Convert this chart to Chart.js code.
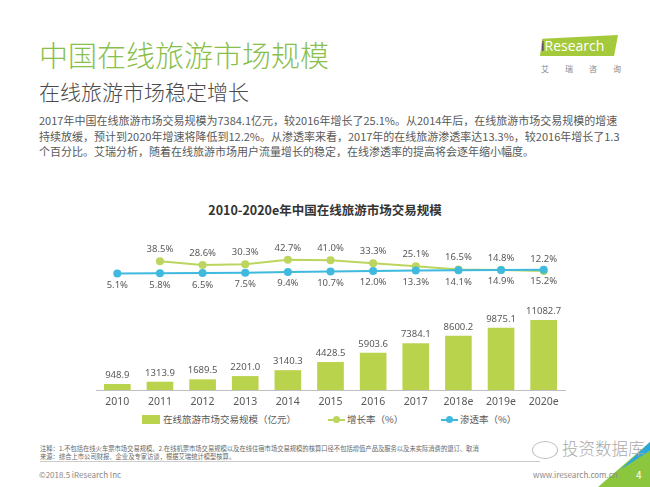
<!DOCTYPE html>
<html lang="zh-CN">
<head>
<meta charset="utf-8">
<title>中国在线旅游市场规模</title>
<script src="https://cdn.jsdelivr.net/npm/chart.js@4.4.1/dist/chart.umd.min.js"></script>
<style>
    html, body { margin: 0; padding: 0; background: #fff; }
    body { width: 650px; height: 487px; position: relative; overflow: hidden;
           font-family: "Noto Sans CJK SC", "Noto Sans", sans-serif; }
    .abs { position: absolute; white-space: nowrap; }
    #mainTitle { left: 39px; top: 37px; font-size: 29px; line-height: 34px; color: #89c04c; font-weight: 300; }
    #subTitle { left: 39px; top: 78px; font-size: 21px; line-height: 26px; color: #4a4a4a; font-weight: 300; }
    #summary { left: 39px; top: 113px; font-size: 11px; line-height: 15.7px; color: #595959; }
    #chartTitle { left: 0; width: 650px; top: 201px; text-align: center; font-size: 12.5px; line-height: 18px; font-weight: bold; color: #333; }
    #chartCanvas { position: absolute; left: 0; top: 236px; }
    .legend { top: 412px; font-size: 9.5px; line-height: 14px; color: #595959; display: flex; align-items: center; }
    .legend .box { width: 18px; height: 9px; margin-right: 3px; }
    .legend .mark { position: relative; width: 17px; height: 9px; margin-right: 2px; }
    .legend .mark i { position: absolute; left: 0; right: 0; top: 4px; height: 2px; }
    .legend .mark b { position: absolute; left: 5px; top: 1.5px; width: 7px; height: 7px; border-radius: 50%; }
    #notes { left: 40px; top: 445px; font-size: 6.3px; line-height: 7.5px; color: #666; }
    #rule { left: 40px; top: 461px; width: 500px; height: 1px; background: #ccc; }
    #copy { left: 39px; top: 469px; font-size: 8px; line-height: 12px; color: #888; }
    #site { left: 533px; top: 469px; font-size: 8px; line-height: 12px; color: #888; }
    #mark { left: 562px; top: 437px; font-size: 16.5px; line-height: 22px; color: #aaa; font-weight: 300; z-index: 2; }
    #markIcon { left: 532px; top: 441px; width: 24px; height: 16px; border: 1.5px solid #bbb; border-radius: 50%; z-index: 2; }
    #corner { left: 598px; top: 442px; width: 52px; height: 45px; background: #8cc63f;
              clip-path: polygon(100% 0, 100% 100%, 0 100%); }
    #cornerBlue { left: 620px; top: 442px; width: 30px; height: 28px; background: #29a8df;
              clip-path: polygon(100% 0, 100% 30%, 0 100%); }
    #pageNo { left: 636px; top: 469px; font-size: 10px; line-height: 12px; color: #fff; }
    #logo { left: 540px; top: 35px; width: 78px; height: 21px; background: #a4c93a;
            clip-path: polygon(3% 18%, 100% 0, 95% 100%, 0 100%); }
    #logoText { left: 541px; top: 36px; font-family: "Open Sans", sans-serif; font-size: 14px; line-height: 20px; color: #fff; }
    #logoText span { color: #1d2f6f; }
    #logoCn { left: 541px; top: 64px; font-size: 8px; line-height: 10px; color: #888; letter-spacing: 16px; }
</style>
</head>
<body>
<div class="abs" id="mainTitle">中国在线旅游市场规模</div>
<div class="abs" id="subTitle">在线旅游市场稳定增长</div>
<div class="abs" id="summary">2017年中国在线旅游市场交易规模为7384.1亿元，较2016年增长了25.1%。从2014年后，在线旅游市场交易规模的增速<br>持续放缓，预计到2020年增速将降低到12.2%。从渗透率来看，2017年的在线旅游渗透率达13.3%，较2016年增长了1.3<br>个百分比。艾瑞分析，随着在线旅游市场用户流量增长的稳定，在线渗透率的提高将会逐年缩小幅度。</div>

<div class="abs" id="logo"></div>
<div class="abs" id="logoText"><span>i</span>Research</div>
<div class="abs" id="logoCn">艾瑞咨询</div>

<div class="abs" id="chartTitle">2010-2020e年中国在线旅游市场交易规模</div>
<canvas id="chartCanvas" width="650" height="174"></canvas>

<div class="abs legend" style="left:142px"><span class="box" id="legBar"></span>在线旅游市场交易规模（亿元）</div>
<div class="abs legend" style="left:328px"><span class="mark" id="legGrowth"><i></i><b></b></span>增长率（%）</div>
<div class="abs legend" style="left:441px"><span class="mark" id="legPen"><i></i><b></b></span>渗透率（%）</div>

<div class="abs" id="notes">注释：1.不包括在线火车票市场交易规模。2.在线机票市场交易规模以及在线住宿市场交易规模的核算口径不包括增值产品及服务以及未实际消费的退订、取消<br>来源：综合上市公司财报、企业及专家访谈，根据艾瑞统计模型核算。</div>
<div class="abs" id="rule"></div>
<div class="abs" id="corner"></div>
<div class="abs" id="cornerBlue"></div>
<div class="abs" id="markIcon"></div>
<div class="abs" id="mark">投资数据库</div>
<div class="abs" id="copy">©2018.5 iResearch Inc</div>
<div class="abs" id="site">www.iresearch.com.cn</div>
<div class="abs" id="pageNo">4</div>

<script>
// chart data
const years = ['2010', '2011', '2012', '2013', '2014', '2015', '2016', '2017', '2018e', '2019e', '2020e'];
const marketSize = [948.9, 1313.9, 1689.5, 2201.0, 3140.3, 4428.5, 5903.6, 7384.1, 8600.2, 9875.1, 11082.7];
const growthRate = [null, 38.5, 28.6, 30.3, 42.7, 41.0, 33.3, 25.1, 16.5, 14.8, 12.2];
const penetrationRate = [5.1, 5.8, 6.5, 7.5, 9.4, 10.7, 12.0, 13.3, 14.1, 14.9, 15.2];

const BAR_COLOR = '#bad34c';
const GROWTH_COLOR = '#bcd55e';
const PEN_COLOR = '#3fb9de';
const LABEL_COLOR = '#595959';
const LABEL_FONT = '"Noto Sans", "Open Sans", sans-serif';

// legend swatches
document.getElementById('legBar').style.background = BAR_COLOR;
document.querySelectorAll('#legGrowth i, #legGrowth b').forEach(el => el.style.background = GROWTH_COLOR);
document.querySelectorAll('#legPen i, #legPen b').forEach(el => el.style.background = PEN_COLOR);

// Draw value labels over bars and points
const valueLabels = {
    id: 'valueLabels',
    afterDatasetsDraw(chart) {
        const ctx = chart.ctx;
        ctx.save();
        ctx.fillStyle = LABEL_COLOR;
        ctx.textAlign = 'center';
        ctx.font = '9.5px ' + LABEL_FONT;
        chart.data.datasets.forEach((ds, i) => {
            const meta = chart.getDatasetMeta(i);
            meta.data.forEach((el, j) => {
                const v = ds.data[j];
                if (v === null) return;
                if (ds.type === 'bar') {
                    ctx.textBaseline = 'bottom';
                    ctx.fillText(v.toFixed(1), el.x, el.y - 4);
                } else if (ds.label.startsWith('增长率')) {
                    ctx.textBaseline = 'bottom';
                    ctx.fillText(v.toFixed(1) + '%', el.x, el.y - 7);
                } else {
                    ctx.textBaseline = 'top';
                    ctx.fillText(v.toFixed(1) + '%', el.x, el.y + 7);
                }
            });
        });
        ctx.restore();
    }
};

const ctx = document.getElementById('chartCanvas').getContext('2d');
new Chart(ctx, {
    data: {
        labels: years,
        datasets: [
            {
                type: 'line',
                label: '增长率（%）',
                data: growthRate,
                yAxisID: 'yRate',
                borderColor: GROWTH_COLOR,
                backgroundColor: GROWTH_COLOR,
                borderWidth: 2,
                pointRadius: 4,
                pointBorderWidth: 0,
                tension: 0,
                order: 1
            },
            {
                type: 'line',
                label: '渗透率（%）',
                data: penetrationRate,
                yAxisID: 'yRate',
                borderColor: PEN_COLOR,
                backgroundColor: PEN_COLOR,
                borderWidth: 2,
                pointRadius: 4,
                pointBorderWidth: 0,
                tension: 0,
                order: 0
            },
            {
                type: 'bar',
                label: '在线旅游市场交易规模（亿元）',
                data: marketSize,
                yAxisID: 'yBar',
                backgroundColor: BAR_COLOR,
                barPercentage: 0.625,
                categoryPercentage: 1,
                order: 2
            }
        ]
    },
    options: {
        responsive: false,
        animation: false,
        layout: { padding: { left: 96, right: 85, top: 4, bottom: 0 } },
        plugins: {
            legend: { display: false },
            tooltip: { enabled: false }
        },
        scales: {
            x: {
                grid: { display: false, drawTicks: false },
                border: { color: '#bfbfbf' },
                ticks: { color: LABEL_COLOR, padding: 6, font: { family: LABEL_FONT, size: 10.5 } },
                afterFit: function(scale) { scale.height = 20; }
            },
            yBar: { display: false, min: 0, max: 23748 },
            yRate: { display: false, min: -309.5, max: 95.9 }
        }
    },
    plugins: [valueLabels]
});
</script>
</body>
</html>
